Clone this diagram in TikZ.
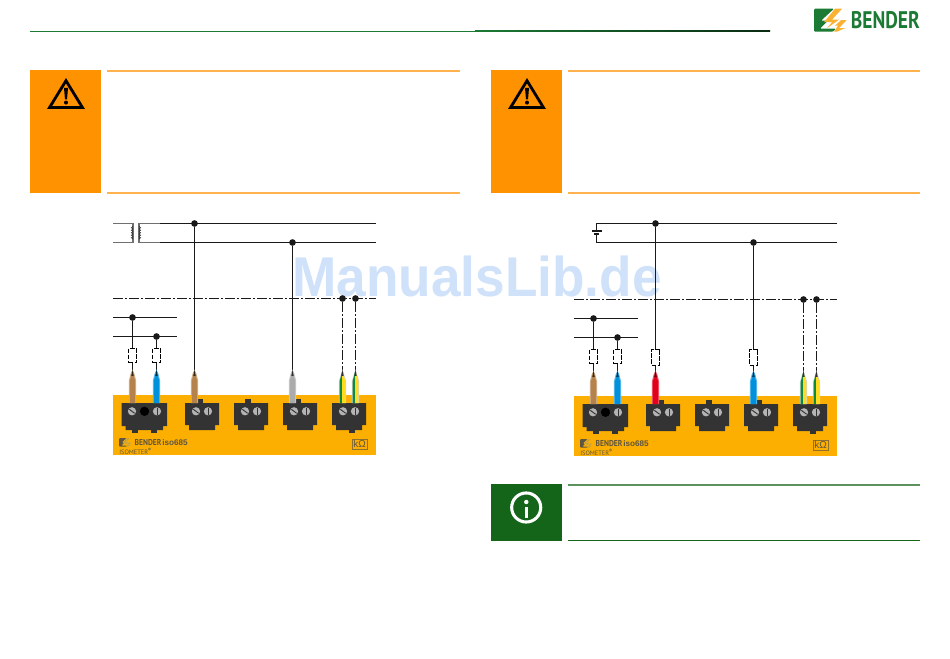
\documentclass[tikz,border=0pt]{standalone}
\usepackage{fontspec}
\setmainfont{Liberation Sans}
\newfontfamily\ptsans{PT Sans}
\usetikzlibrary{calc}
\definecolor{warnor}{HTML}{FF9200}
\definecolor{warnln}{HTML}{FFB24D}
\definecolor{infogr}{HTML}{14651A}
\definecolor{bendgr}{HTML}{1B7A34}
\definecolor{bendye}{HTML}{F9B233}
\definecolor{devye}{HTML}{FCAF00}
\definecolor{devtx}{HTML}{5F5540}
\definecolor{devlg}{HTML}{C9A440}
\definecolor{termdk}{HTML}{333333}
\definecolor{screw}{HTML}{B4B4B4}
\definecolor{wbrown}{HTML}{B5824C}
\definecolor{wblue}{HTML}{0091DC}
\definecolor{wgrey}{HTML}{ABABAB}
\definecolor{wred}{HTML}{E2001A}
\definecolor{wgreen}{HTML}{0F8A3C}
\definecolor{wyell}{HTML}{FFDC20}
\definecolor{wmark}{HTML}{CFE2FA}
\definecolor{coilgr}{HTML}{707070}
\tikzset{
  wire/.style={line width=.85pt,black!90},
  pewire/.style={line width=.7pt,black!90,dash pattern=on 7.5pt off 1.5pt on 1.5pt off 1.5pt},
  junct/.style={circle,fill=black!90,inner sep=0pt,minimum size=5pt},
  fusebox/.style={draw=black,line width=.55pt,dash pattern=on 3.5pt off 1pt,fill=white,minimum width=6pt,minimum height=10.5pt,inner sep=0pt},
  bigfuse/.style={fusebox,minimum height=12pt},
  termbody/.style={fill=termdk},
  screwhead/.style={circle,fill=screw,draw=none,inner sep=0pt,minimum size=6.2pt},
  banner/.style={line width=1.1pt},
  devlabel/.style={inner sep=0pt,text=devtx,anchor=base west},
}
% logo drawn in a 32x23 box: #1 main, #2 bolts
\newcommand{\benderlogo}[2]{%
  \fill[#1,rounded corners=.8pt] (0,0) -- (20,0) -- (7,12) -- (14,12) -- (6,20) -- (22,20) -- (19,23) -- (0,23) -- cycle;
  \fill[#2] (21,0) -- (28,0) -- (18,11) -- (25,11) -- (13,19.5) -- (18,13.5) -- (10,13.5) -- cycle;
  \fill[#2] (27,11.5) -- (32.5,11.5) -- (25,19.5) -- (31,19.5) -- (23,23) -- (20,23) -- (24,17) -- (21,17) -- cycle;
}
% terminal: #1 prefix, #2 left x
\newcommand{\smallterm}[2]{%
  \fill[termbody] (#2,403) -- (#2+34,403) -- (#2+34,425) -- (#2+30,425) -- (#2+30,430) -- (#2+4,430) -- (#2+4,425) -- (#2,425) -- cycle;
  \node[screwhead] (#1s) at (#2+11,411.3) {};
  \node[screwhead] (#1t) at (#2+23,411.3) {};
  \draw[termdk,line width=.7pt] ($(#1s)+(-2.7,-2)$) -- ($(#1s)+(2.7,2)$);
  \draw[termdk,line width=.7pt] ($(#1t)+(0,-3.4)$) -- ($(#1t)+(0,3.4)$);
}
% wire pin: #1 x, #2 colour
\newcommand{\pinwire}[2]{%
  \fill[#2!65!white] (#1,369.5) -- (#1+2,374) -- (#1+3.7,381) -- (#1+3.7,403) -- (#1-3.7,403) -- (#1-3.7,381) -- (#1-2,374) -- cycle;
  \fill[#2] (#1,371) -- (#1+2.7,381) -- (#1+2.7,403) -- (#1-2.7,403) -- (#1-2.7,381) -- cycle;
  \fill[black!70!#2] (#1,369.5) -- (#1+1.2,376) -- (#1-1.2,376) -- cycle;
}
\newcommand{\pepin}[1]{%
  \fill[wgrey!50!white] (#1,369.5) -- (#1+3.7,381) -- (#1+3.7,403) -- (#1-3.7,403) -- (#1-3.7,381) -- cycle;
  \fill[wgreen] (#1-.3,371) -- (#1-2.8,381) -- (#1-2.8,403) -- (#1-.3,403) -- cycle;
  \fill[wyell] (#1-.3,371) -- (#1+2.8,381) -- (#1+2.8,403) -- (#1-.3,403) -- cycle;
  \fill[black!80] (#1,369.5) -- (#1+1.2,376) -- (#1-1.2,376) -- cycle;
}
% circuit part: #1 prefix, #2 and #3 pin colours, #4 bus y offset
\newcommand{\devicepanel}[4]{%
  \coordinate (#1busAr) at (376,223.5+#4);
  \coordinate (#1busBr) at (376,242.5+#4);
  \coordinate (#1peL) at (113,298.5);
  \coordinate (#1peR) at (376,298.5);
  \coordinate (#1shAl) at (113,317.5);
  \coordinate (#1shAr) at (177,317.5);
  \coordinate (#1shBl) at (113,336.5);
  \coordinate (#1shBr) at (177,336.5);
  \node[junct] (#1jA) at (132.5,317.5) {};
  \node[junct] (#1jB) at (156.5,336.5) {};
  \node[junct] (#1jC) at (194.5,223.5+#4) {};
  \node[junct] (#1jD) at (292.5,242.5+#4) {};
  \node[junct] (#1jE) at (342.5,298.5) {};
  \node[junct] (#1jF) at (355.5,298.5) {};
  \coordinate (#1eA) at (132.5,372);
  \coordinate (#1eB) at (156.5,372);
  \coordinate (#1eC) at (194.5,372);
  \coordinate (#1eD) at (292.5,372);
  \coordinate (#1eE) at (342.5,372);
  \coordinate (#1eF) at (355.5,372);
  \fill[devye] (113,395.3) rectangle (376,455);
  \draw[wire] (#1shAl) -- (#1shAr);
  \draw[wire] (#1shBl) -- (#1shBr);
  \draw[pewire] (#1peL) -- (#1peR);
  \draw[wire] (#1jA) -- (#1eA);
  \draw[wire] (#1jB) -- (#1eB);
  \draw[wire] (#1jC) -- (#1eC);
  \draw[wire] (#1jD) -- (#1eD);
  \draw[pewire] (#1jE) -- (#1eE);
  \draw[pewire] (#1jF) -- (#1eF);
  \node[fusebox] (#1fA) at (132.5,355.7) {};
  \node[fusebox] (#1fB) at (156.5,355.7) {};
  % terminal 1
  \fill[termbody] (132,428) rectangle (138,432.5);
  \fill[termbody] (151,428) rectangle (157,432.5);
  \fill[termbody] (121.5,403) -- (167,403) -- (167,426) -- (163,426) -- (163,430) -- (125.5,430) -- (125.5,426) -- (121.5,426) -- cycle;
  \node[screwhead] (#1ta) at (132,411.3) {};
  \node[screwhead] (#1tb) at (157,411.3) {};
  \node[circle,fill=black,inner sep=0pt,minimum size=7pt] (#1tc) at (144.5,411.3) {};
  \draw[termdk,line width=.7pt] ($(#1ta)+(-2.7,-2)$) -- ($(#1ta)+(2.7,2)$);
  \draw[termdk,line width=.7pt] ($(#1tb)+(0,-3.4)$) -- ($(#1tb)+(0,3.4)$);
  \fill[termbody] (197,398.5) rectangle (203,404);
  \fill[termbody] (245,398.5) rectangle (251,404);
  \fill[termbody] (295,398.5) rectangle (301,404);
  \fill[termbody] (349,428) rectangle (355,432.5);
  \smallterm{#1two}{185}
  \smallterm{#1thr}{234}
  \smallterm{#1fou}{283}
  \smallterm{#1fiv}{332}
  \pinwire{132.5}{wbrown}
  \pinwire{156.5}{wblue}
  \pinwire{194.5}{#2}
  \pinwire{292.5}{#3}
  \pepin{342.5}
  \pepin{355.5}
  % device labels
  \begin{scope}[shift={(119,438)},scale=.38]\benderlogo{devtx}{devlg}\end{scope}
  \node[devlabel,font=\ptsans\bfseries\fontsize{6.4}{7}\selectfont,transform shape,xscale=.88] (#1br) at (134.5,445.5) {BENDER};
  \node[devlabel,font=\bfseries\fontsize{6.1}{7}\selectfont] (#1ty) at (162,445.5) {iso685};
  \node[devlabel,font=\ptsans\fontsize{4.8}{6}\selectfont] (#1is) at (119,454) {ISOMETER\textsuperscript{\raisebox{-.3ex}{\bfseries ®}}};
  \node[draw=devtx!70!devye,line width=.35pt,text=devtx,inner sep=0pt,minimum width=11pt,minimum height=7.6pt,font=\fontsize{7.5}{8}\selectfont] (#1kz) at (359.5,444) {kΩ};
}
\newcommand{\warnsign}[1]{%
  \draw[black,line width=2.1pt,line join=miter,miter limit=10] (#1+66,80.7) -- (#1+82.5,107.6) -- (#1+49.5,107.6) -- cycle;
  \fill[black] (#1+64,88) -- (#1+68,88) -- (#1+67,99.5) -- (#1+65,99.5) -- cycle;
  \fill[black] (#1+66,102.6) circle[x radius=2,y radius=2];
}
\begin{document}
\begin{tikzpicture}[x=.75pt,y=-.75pt]
\useasboundingbox (0,0) rectangle (950,659);
\fill[white] (0,0) rectangle (950,659);
% watermark
\node[inner sep=0pt,anchor=base west,text=wmark,font=\bfseries\fontsize{42}{46}\selectfont,transform shape,xscale=.95] (wm) at (292,297) {ManualsLib.de};
% header
\fill[bendgr] (30,31) rectangle (475,32);
\shade[left color=bendgr,right color=black!65!bendgr] (475,31) rectangle (770,32);
\begin{scope}[shift={(814,8.7)}]\benderlogo{bendgr}{bendye}\end{scope}
\node[inner sep=0pt,anchor=base west,text=bendgr,font=\ptsans\bfseries\fontsize{18}{20}\selectfont,transform shape,xscale=.81] (logotext) at (850.7,28.3) {BENDER};
% warning banners
\fill[warnor] (30,70) rectangle (101,193.5);
\draw[warnln,banner] (107,71) -- (460,71);
\draw[warnln,banner] (107,193) -- (460,193);
\warnsign{0}
\fill[warnor] (491,70) rectangle (562,193.5);
\draw[warnln,banner] (568,71) -- (920,71);
\draw[warnln,banner] (568,193) -- (920,193);
\warnsign{461}
% info banner
\fill[infogr] (491,484) rectangle (562,541);
\draw[infogr!70!white,banner] (568,485) -- (920,485);
\draw[infogr,banner] (568,540.3) -- (920,540.3);
\node[circle,draw=white,line width=2.3pt,inner sep=0pt,minimum size=21.8pt] (infoc) at (526.2,507.5) {};
\fill[white] (524.6,507) rectangle (528,517.5);
\fill[white] (526.3,502) circle[x radius=2.2,y radius=2.2];
% left circuit
\begin{scope}
  \devicepanel{L}{wbrown}{wgrey}{0}
  \coordinate (Lpa) at (113,223.5);
  \coordinate (Lpb) at (113,242.5);
  \coordinate (Lsa) at (160,223.5);
  \coordinate (Lsb) at (160,242.5);
  \coordinate (Lc1) at (133,223.5);
  \coordinate (Lc2) at (133,242.5);
  \coordinate (Lc3) at (139,223.5);
  \coordinate (Lc4) at (139,242.5);
  \draw[wire] (Lsa) -- (LbusAr);
  \draw[wire] (Lsb) -- (LbusBr);
  \draw[coilgr,line width=.8pt] (Lpa) -- (Lc1) -- (Lc2) -- (Lpb);
  \draw[coilgr,line width=.8pt] (Lsa) -- (Lc3) -- (Lc4) -- (Lsb);
  \foreach \yy in {226.5,229,231.5,234,236.5} {
    \draw[black!80,line width=.55pt] (133,\yy) .. controls (131,\yy+.5) and (131,\yy+2) .. (133,\yy+2.5);
    \draw[black!80,line width=.55pt] (139,\yy) .. controls (141,\yy+.5) and (141,\yy+2) .. (139,\yy+2.5);
  }
\end{scope}
% right circuit
\begin{scope}[shift={(461,1)}]
  \devicepanel{R}{wred}{wblue}{-1}
  \node[bigfuse] (RfC) at (194.5,356) {};
  \node[bigfuse] (RfD) at (292.5,356) {};
  \coordinate (Rba) at (135.5,222.5);
  \coordinate (Rbb) at (135.5,241.5);
  \coordinate (Rpa) at (135.5,230);
  \coordinate (Rpb) at (135.5,233);
  \draw[wire] (RbusAr) -- (Rba) -- (Rpa);
  \draw[wire] (RbusBr) -- (Rbb) -- (Rpb);
  \draw[wire] ($(Rpa)+(-5,0)$) -- ($(Rpa)+(5,0)$);
  \draw[wire] ($(Rpb)+(-2.5,0)$) -- ($(Rpb)+(2.5,0)$);
\end{scope}
\end{tikzpicture}
\end{document}
